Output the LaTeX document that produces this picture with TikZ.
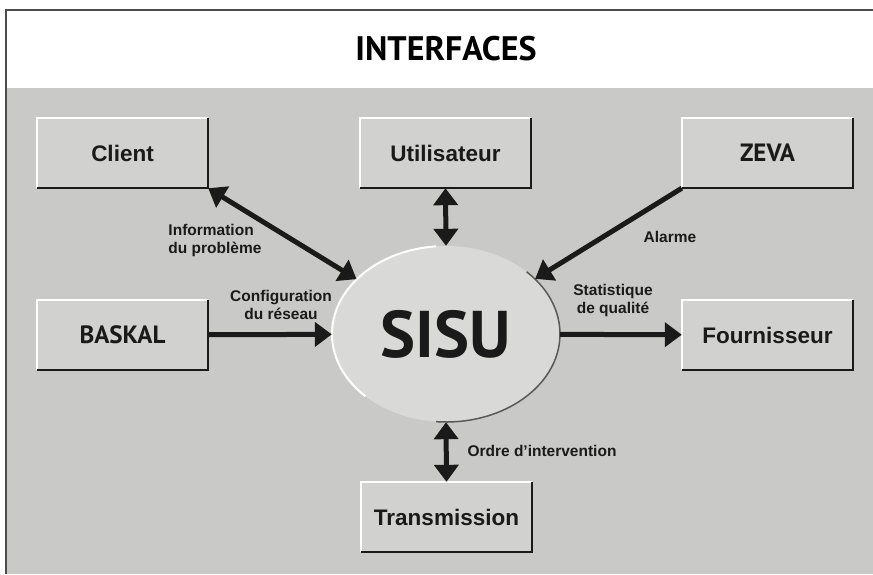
\documentclass[tikz,border=0pt]{standalone}
\usepackage{fontspec}
\setmainfont{Liberation Sans}
\newfontfamily\headfont{PT Sans}
\usetikzlibrary{arrows.meta,shapes.geometric}
\definecolor{bggray}{RGB}{201,201,199}
\definecolor{boxgray}{RGB}{209,209,207}
\definecolor{sisugray}{RGB}{217,217,215}
\definecolor{ink}{RGB}{26,26,26}
\tikzset{
    box/.style={rectangle, fill=boxgray, minimum width=171pt, minimum height=70pt,
        inner sep=0pt, text=ink, font=\bfseries\fontsize{22.5}{24}\selectfont},
    headbox/.style={box, font=\headfont\bfseries\fontsize{25}{27}\selectfont},
    note/.style={align=center, text=ink, font=\bfseries\fontsize{15.5}{18}\selectfont},
    link/.style={draw=ink, line width=5pt, -{Triangle[length=17pt,width=24pt]}},
    both/.style={link, {Triangle[length=17pt,width=24pt]}-{Triangle[length=17pt,width=24pt]}},
}
\begin{document}
\begin{tikzpicture}[x=1pt,y=-1pt]
\useasboundingbox (0,0) rectangle (873,574);
\fill[white] (0,0) rectangle (873,574);
\fill[bggray] (7,88) rectangle (873,574);
\draw[gray!60!black, line width=1.5pt] (6,574)--(6,10)--(873,10);

\node (title) at (446,49) {\headfont\bfseries\fontsize{34}{36}\selectfont INTERFACES};

\node[box] (client) at (122.5,153) {Client};
\node[box] (util) at (445.5,153) {Utilisateur};
\node[headbox] (zeva) at (767.5,153) {ZEVA};
\node[headbox] (baskal) at (122.5,335) {BASKAL};
\node[box] (fourn) at (767.5,335) {Fournisseur};
\node[box] (trans) at (446.5,517) {Transmission};
\foreach \n in {client,util,zeva,baskal,fourn,trans} {
\draw[white, line width=2pt] (\n.south west) |- (\n.north east);
\draw[ink, line width=2.5pt] (\n.south west) -| (\n.north east);
}

\node[ellipse, fill=sisugray, minimum width=228pt, minimum height=176pt, inner sep=0pt,
    text=ink, font=\headfont\bfseries\fontsize{66}{70}\selectfont] (sisu) at (446,334) {SISU};
\draw[white, line width=2pt] ([shift={(95:114pt and 88pt)}]sisu.center)
    arc[start angle=95, end angle=225, x radius=114pt, y radius=88pt];
\draw[gray!70!black, line width=1.5pt] ([shift={(-95:114pt and 88pt)}]sisu.center)
    arc[start angle=-95, end angle=45, x radius=114pt, y radius=88pt];

\draw[both] (client.south east) -- (sisu);
\draw[both] (util.south) -- (sisu.north);
\draw[link] (zeva.south west) -- (sisu);
\draw[link] (baskal) -- (sisu);
\draw[link] (sisu) -- (fourn);
\draw[both] (sisu.south) -- (trans.north);

\node[note, align=left] (info) at (215,240) {Information\\du problème};
\node[note] (config) at (281,305) {Configuration\\du réseau};
\node[note] (alarm) at (670,237) {Alarme};
\node[note] (stat) at (613,300) {Statistique\\de qualité};
\node[note] (ordre) at (542,451) {Ordre d'intervention};
\end{tikzpicture}
\end{document}
